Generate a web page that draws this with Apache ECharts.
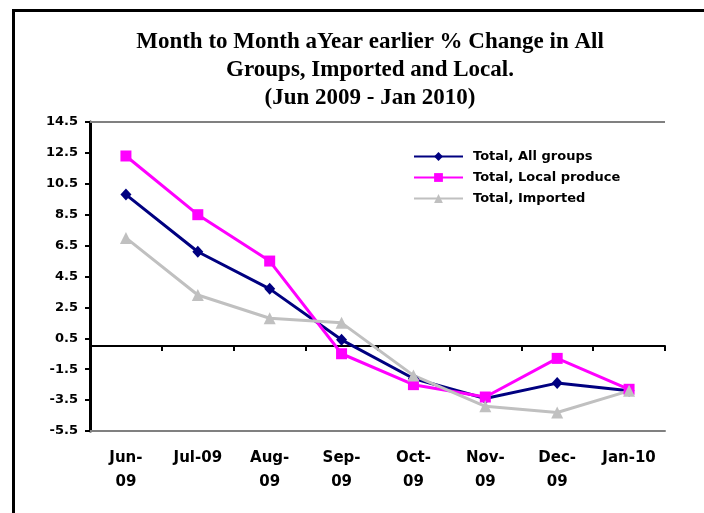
<!DOCTYPE html>
<html>
<head>
<meta charset="utf-8">
<script src="https://cdn.jsdelivr.net/npm/echarts@6/dist/echarts.min.js"></script>
<style>
  html, body { margin: 0; padding: 0; background: #fff; }
  #chart { position: absolute; left: 0; top: 0; width: 704px; height: 513px; }
  #frame {
    position: absolute; left: 12px; top: 9px; width: 692px; height: 504px;
    border-top: 3px solid #000; border-left: 3px solid #000;
    box-sizing: border-box; pointer-events: none;
  }
</style>
</head>
<body>
<div id="chart"></div>
<div id="frame"></div>
<script>
// months on the category axis
const months = ['Jun-09', 'Jul-09', 'Aug-09', 'Sep-09', 'Oct-09', 'Nov-09', 'Dec-09', 'Jan-10']
// how the labels wrap in the original
const monthLabels = ['Jun-\n09', 'Jul-09', 'Aug-\n09', 'Sep-\n09', 'Oct-\n09', 'Nov-\n09', 'Dec-\n09', 'Jan-10']

// % change
const allGroups = [9.8, 6.1, 3.7, 0.4, -2.1, -3.4, -2.4, -2.9]
const localProduce = [12.3, 8.5, 5.5, -0.5, -2.5, -3.3, -0.8, -2.8]
const imported = [7.0, 3.3, 1.8, 1.5, -1.9, -3.9, -4.3, -2.9]

// y tick labels
const yTicks = [-5.5, -3.5, -1.5, 0.5, 2.5, 4.5, 6.5, 8.5, 10.5, 12.5, 14.5]
const yMin = -5.5
const yMax = 14.5

const labelFont = "'DejaVu Sans', sans-serif"

const chart = echarts.init(document.getElementById('chart'))

function lineSeries(name, data, color, symbol, size) {
  return {
    name: name,
    type: 'line',
    data: data,
    xAxisIndex: 0,
    symbol: symbol,
    symbolSize: size,
    showAllSymbol: true,
    itemStyle: { color: color },
    lineStyle: { color: color, width: 3 },
    animation: false
  }
}

const series = [
  lineSeries('Total, All groups', allGroups, '#000080', 'diamond', [11, 12]),
  lineSeries('Total, Local produce', localProduce, '#FF00FF', 'rect', 11),
  lineSeries('Total, Imported', imported, '#C0C0C0', 'triangle', 12)
]
// grey line along the top of the plot
series[0].markLine = {
  silent: true,
  symbol: 'none',
  label: { show: false },
  lineStyle: { color: '#808080', width: 2, type: 'solid' },
  data: [{ yAxis: yMax }]
}

chart.setOption({
  backgroundColor: '#fff',
  title: {
    text: 'Month to Month aYear earlier % Change in All\nGroups, Imported and Local.\n(Jun 2009 - Jan 2010)',
    left: 370,
    textAlign: 'center',
    top: 28,
    padding: 0,
    textStyle: {
      fontFamily: "'Liberation Serif', serif",
      fontWeight: 'bold',
      fontSize: 23,
      lineHeight: 28,
      color: '#000'
    }
  },
  legend: {
    orient: 'vertical',
    left: 413,
    top: 150,
    padding: 0,
    itemWidth: 49,
    itemHeight: 11,
    itemGap: 8,
    textStyle: {
      fontFamily: labelFont,
      fontWeight: 'bold',
      fontSize: 13,
      padding: [0, 0, 0, 5],
      color: '#000'
    },
    data: series.map(s => s.name)
  },
  grid: {
    left: 90,
    right: 39,
    top: 122,
    bottom: 82
  },
  xAxis: [
    {
      type: 'category',
      data: months,
      position: 'bottom',
      axisLine: { onZero: false, lineStyle: { color: '#808080', width: 2 } },
      axisTick: { show: false },
      axisLabel: {
        interval: 0,
        margin: 15,
        fontFamily: labelFont,
        fontWeight: 'bold',
        fontSize: 15,
        lineHeight: 24,
        color: '#000',
        formatter: (v, i) => monthLabels[i]
      }
    },
    {
      // zero line with its ticks
      type: 'category',
      data: months,
      position: 'top',
      axisLine: { onZero: true, lineStyle: { color: '#000', width: 2 } },
      axisTick: { show: true, inside: true, length: 5, lineStyle: { color: '#000', width: 2 } },
      axisLabel: { show: false }
    }
  ],
  yAxis: {
    type: 'value',
    min: yMin,
    max: yMax,
    axisLine: { show: true, lineStyle: { color: '#000', width: 3 } },
    axisTick: { show: true, length: 5, customValues: yTicks, lineStyle: { color: '#000', width: 2 } },
    splitLine: { show: false },
    axisLabel: {
      customValues: yTicks,
      margin: 12,
      fontFamily: labelFont,
      fontWeight: 'bold',
      fontSize: 13,
      color: '#000',
      formatter: v => v.toFixed(1)
    }
  },
  series: series
})
</script>
</body>
</html>
